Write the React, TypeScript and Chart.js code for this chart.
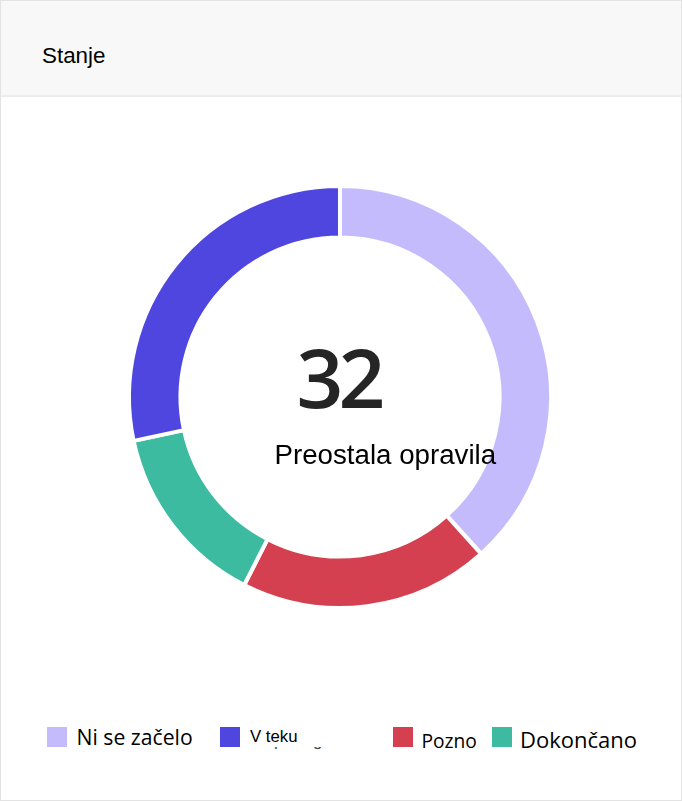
import React, { useEffect, useRef } from "react";
import { Chart, registerables } from "chart.js";

Chart.register(...registerables);

const title = "Stanje";
const centerValue = "32";
const centerLabel = "Preostala opravila";
const labels = ["Ni se začelo", "V teku", "Pozno", "Dokončano"];
const values = [46, 34, 23, 17];
const colors = ["#C4BBFD", "#4F46E0", "#D4404F", "#3CBBA0"];
// order in which the slices run clockwise from the top
const ringOrder = [0, 2, 3, 1];

// legend layout (page px): square left, text left, text baseline, font
const legendLayout = [
  { sq: 47, tx: 76.5, base: 745, font: "21.2px 'Open Sans'" },
  { sq: 220, tx: 250, base: 743, font: "16.8px 'Liberation Sans'" },
  { sq: 393, tx: 421.5, base: 748, font: "19.2px 'Open Sans'" },
  { sq: 492, tx: 520, base: 748, font: "22px 'Open Sans'" },
];

export default function App() {
  const ref = useRef<HTMLCanvasElement | null>(null);

  useEffect(() => {
    if (!ref.current) return;
    const chart = new Chart(ref.current, {
      type: "doughnut",
      data: {
        labels: ringOrder.map((i) => labels[i]),
        datasets: [
          {
            data: ringOrder.map((i) => values[i]),
            backgroundColor: ringOrder.map((i) => colors[i]),
            borderColor: "#ffffff",
            borderWidth: 4,
            hoverOffset: 0,
          } as any,
        ],
      },
      options: {
        responsive: false,
        animation: false,
        events: [],
        radius: 211,
        cutout: "75.6%",
        layout: { padding: 0 },
        plugins: { legend: { display: false }, tooltip: { enabled: false } },
      } as any,
    });
    return () => chart.destroy();
  }, []);

  // container has a 1px border, so children are offset by 1px
  const P = (v: number) => v - 1;

  return (
    <div
      style={{
        position: "absolute",
        left: 0,
        top: 0,
        width: 682,
        height: 801,
        boxSizing: "border-box",
        border: "1px solid #e3e3e3",
        background: "#ffffff",
        overflow: "hidden",
      }}
    >
      <div
        style={{
          position: "absolute",
          left: 0,
          top: 0,
          width: "100%",
          height: 94,
          background: "#f8f8f8",
          borderBottom: "2px solid #ececec",
        }}
      />
      <div
        style={{
          position: "absolute",
          left: P(42),
          top: P(63.5 - 22.4 * 0.8465),
          font: "22.4px 'Liberation Sans'",
          lineHeight: "22.4px",
          color: "#000",
          whiteSpace: "nowrap",
        }}
      >
        {title}
      </div>
      <canvas
        ref={ref}
        width={600}
        height={600}
        style={{ position: "absolute", left: P(40), top: P(97), width: 600, height: 600 }}
      />
      <div
        style={{
          position: "absolute",
          left: P(241),
          width: 200,
          textAlign: "center",
          top: P(408 - 82 * 0.888),
          font: "600 82px 'Open Sans'",
          lineHeight: "82px",
          letterSpacing: "-5px",
          textIndent: "-5px",
          color: "#252525",
        }}
      >
        {centerValue}
      </div>
      <div
        style={{
          position: "absolute",
          left: P(274.5),
          top: P(464 - 27.7 * 0.8465),
          font: "27.7px 'Liberation Sans'",
          lineHeight: "27.7px",
          color: "#000",
          whiteSpace: "nowrap",
        }}
      >
        {centerLabel}
      </div>
      {labels.map((lab, i) => {
        const L = legendLayout[i];
        const fs = parseFloat(L.font);
        const isOpen = L.font.includes("Open");
        const off = isOpen ? 0.888 * fs : 0.8465 * fs;
        return (
          <React.Fragment key={lab}>
            <div
              style={{
                position: "absolute",
                left: P(L.sq),
                top: P(727),
                width: 20,
                height: 20,
                background: colors[i],
              }}
            />
            <div
              style={{
                position: "absolute",
                left: P(L.tx),
                top: P(L.base - off),
                font: L.font,
                lineHeight: fs + "px",
                color: "#000",
                whiteSpace: "nowrap",
              }}
            >
              {lab}
            </div>
          </React.Fragment>
        );
      })}
      <div
        style={{
          position: "absolute",
          left: P(250),
          top: P(747),
          width: 90,
          height: 7,
          overflow: "hidden",
        }}
      >
        <span
          style={{
            position: "absolute",
            left: 24,
            top: -(747 - 733),
            font: "16.8px 'Liberation Sans'",
            lineHeight: "16.8px",
            color: "#444",
          }}
        >
          p
        </span>
        <span
          style={{
            position: "absolute",
            left: 63,
            top: -(747 - 733),
            font: "16.8px 'Liberation Sans'",
            lineHeight: "16.8px",
            color: "#444",
          }}
        >
          g
        </span>
      </div>
    </div>
  );
}
